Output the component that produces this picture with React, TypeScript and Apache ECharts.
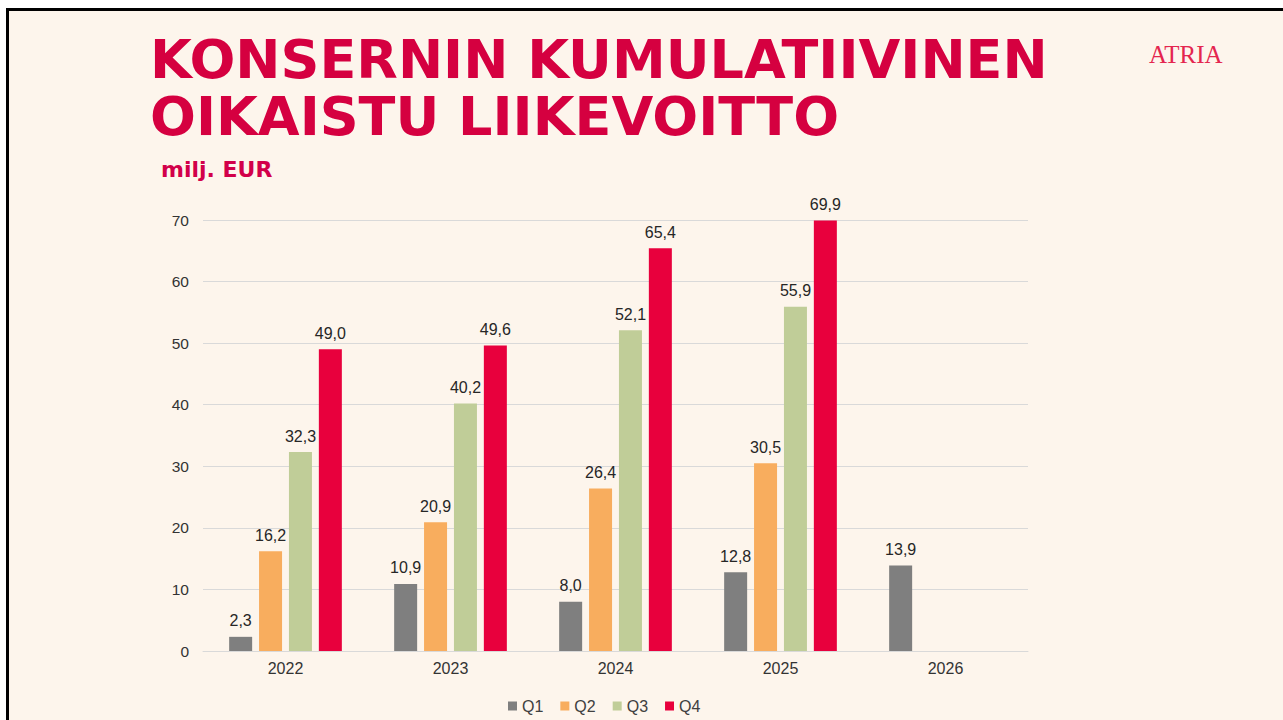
import React, { useEffect, useRef } from "react";
import * as echarts from "echarts";

const categories = ["2022", "2023", "2024", "2025", "2026"];
const seriesNames = ["Q1", "Q2", "Q3", "Q4"];
const q1 = [2.3, 10.9, 8.0, 12.8, 13.9];
const q2 = [16.2, 20.9, 26.4, 30.5, null];
const q3 = [32.3, 40.2, 52.1, 55.9, null];
const q4 = [49.0, 49.6, 65.4, 69.9, null];
const seriesColors = ["#7F7F7F", "#F8AD5E", "#C0CD98", "#E8003D"];
const titleLines = ["KONSERNIN KUMULATIIVINEN", "OIKAISTU LIIKEVOITTO"];
const unitLabel = "milj. EUR";
const brand = "ATRIA";

export default function App() {
  const ref = useRef<HTMLDivElement>(null);
  useEffect(() => {
    if (!ref.current) return;
    const chart = echarts.init(ref.current, undefined, { renderer: "svg" });
    const data = [q1, q2, q3, q4];
    const fmt = (v: number) => v.toFixed(1).replace(".", ",");
    chart.setOption({
      animation: false,
      textStyle: { fontFamily: "Liberation Sans" },
      graphic: [
        {
          type: "text",
          left: 150,
          top: 32,
          style: {
            text: titleLines[0],
            font: "bold 54px 'DejaVu Sans'",
            fill: "#D50040",
          },
        },
        {
          type: "text",
          left: 150,
          top: 89,
          style: {
            text: titleLines[1],
            font: "bold 54px 'DejaVu Sans'",
            fill: "#D50040",
          },
        },
        {
          type: "text",
          left: 161,
          top: 158,
          style: {
            text: unitLabel,
            font: "bold 22px 'DejaVu Sans'",
            fill: "#D2004A",
          },
        },
        {
          type: "text",
          left: 1149,
          top: 42,
          style: {
            text: brand,
            font: "25px 'Liberation Serif'",
            fill: "#E4264F",
          },
        },
      ],
      legend: {
        left: 503,
        top: 693,
        itemWidth: 9,
        itemHeight: 9,
        itemGap: 17,
        icon: "rect",
        data: seriesNames,
        textStyle: { fontSize: 16, color: "#404040", fontFamily: "Liberation Sans" },
      },
      grid: { left: 203, right: 255, top: 220, bottom: 69, containLabel: false },
      xAxis: {
        type: "category",
        data: categories,
        axisLine: { show: true, lineStyle: { color: "#D9D9D9" } },
        axisTick: { show: false },
        axisLabel: { fontSize: 16, color: "#333333", margin: 9 },
      },
      yAxis: {
        type: "value",
        min: 0,
        max: 70,
        interval: 10,
        axisLine: { show: false },
        axisTick: { show: false },
        axisLabel: { fontSize: 15.5, color: "#333333", margin: 14 },
        splitLine: { lineStyle: { color: "#D9D9D9", width: 1 } },
      },
      series: seriesNames.map((name, i) => ({
        name,
        type: "bar",
        data: data[i],
        barWidth: 23,
        barGap: "30%",
        itemStyle: { color: seriesColors[i] },
        label: {
          show: true,
          position: "top",
          distance: 8,
          fontSize: 16,
          color: "#262626",
          formatter: (p: any) => fmt(p.value),
        },
      })),
    });
    return () => chart.dispose();
  }, []);
  return (
    <>
      <div
        style={{
          position: "fixed",
          left: 6,
          top: 8,
          width: 1400,
          height: 800,
          borderTop: "3px solid #000",
          borderLeft: "3px solid #000",
          background: "#FDF5EC",
        }}
      />
      <div
        ref={ref}
        style={{ position: "fixed", left: 0, top: 0, width: 1283, height: 720 }}
      />
    </>
  );
}
